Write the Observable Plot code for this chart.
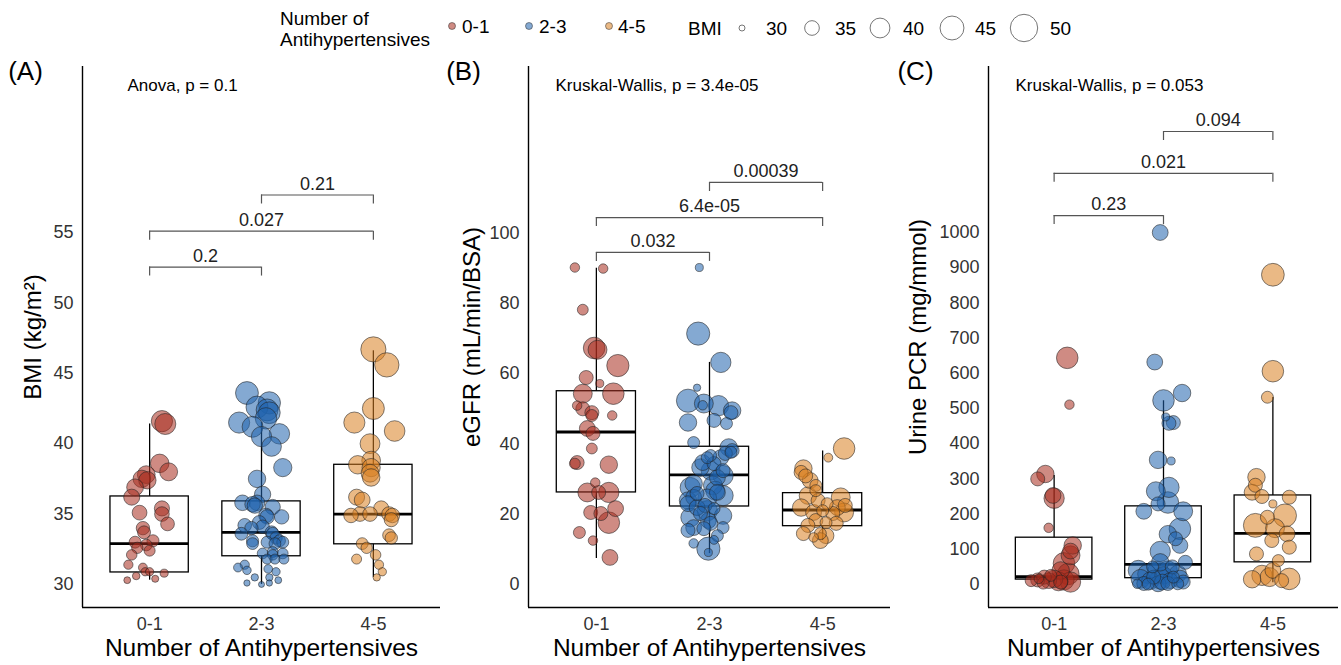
<!DOCTYPE html>
<html><head><meta charset="utf-8">
<script src="https://cdn.jsdelivr.net/npm/d3@7"></script>
<script src="https://cdn.jsdelivr.net/npm/@observablehq/plot@0.6"></script>
<style>
body{margin:0;background:#fff;}
#wrap{position:relative;width:1341px;height:665px;font-family:'Liberation Sans',Arial,sans-serif;background:#fff;overflow:hidden;}
.panel{position:absolute;top:55px;}
</style></head><body><div id="wrap"></div>
<script>
// ---------- categories & legend ----------
const groups = ["0-1", "2-3", "4-5"];
const groupColors = ["#A82C1E", "#1F63AD", "#D98021"];
const bmiLegendValues = [30, 35, 40, 45, 50];
const xTitle = "Number of Antihypertensives";

// ---------- Panel A: BMI  [BMI, jitter] ----------
const bmiA_g01 = [[41.6,0.11],[41.4,0.14],[38.6,0.09],[38.0,0.17],[37.8,-0.03],[37.5,-0.07],[37.4,-0.02],[36.9,-0.13],[36.2,-0.16],[35.1,-0.09],[35.4,0.11],[35.0,0.11],[34.3,0.16],[34.0,-0.06],[33.7,-0.05],[33.0,-0.13],[33.1,0.03],[32.8,-0.03],[32.6,-0.11],[32.4,0.0],[32.1,-0.16],[31.4,-0.19],[31.2,-0.06],[30.9,-0.04],[30.9,0.0],[30.8,0.13],[30.6,-0.12],[30.3,-0.2],[30.4,0.05]];
const bmiA_g23 = [[43.6,-0.13],[42.9,0.07],[42.6,-0.04],[42.4,0.05],[42.2,0.07],[41.8,0.04],[41.5,-0.2],[41.2,-0.08],[40.7,0.16],[40.5,0.0],[39.8,0.09],[38.3,0.19],[37.5,-0.04],[36.4,0.01],[35.8,-0.17],[35.7,-0.08],[35.6,-0.06],[35.8,-0.04],[35.5,0.10],[34.8,0.18],[34.8,0.05],[34.9,0.04],[34.4,-0.02],[34.2,-0.15],[34.0,-0.09],[34.1,0.01],[33.6,-0.18],[33.7,0.09],[33.6,0.10],[33.3,0.13],[33.1,0.16],[33.1,-0.08],[33.0,0.05],[33.0,0.19],[32.9,-0.08],[32.9,0.12],[32.3,0.10],[32.2,0.01],[32.1,0.10],[32.2,0.19],[31.8,0.05],[31.8,0.12],[31.8,0.2],[31.2,-0.21],[31.4,-0.15],[31.0,-0.13],[31.1,0.06],[30.9,0.13],[30.5,-0.06],[30.5,0.07],[30.1,-0.13],[30.1,0.07],[30.0,0.0],[30.3,0.15]];
const bmiA_g45 = [[46.7,0.0],[45.6,0.12],[42.5,0.0],[41.5,-0.17],[40.9,0.19],[40.0,-0.03],[38.8,-0.02],[38.5,-0.14],[38.3,-0.02],[37.9,-0.03],[37.6,-0.02],[36.2,-0.15],[36.0,-0.1],[34.9,-0.2],[35.0,-0.12],[35.0,-0.03],[35.4,0.07],[35.0,0.14],[34.6,0.16],[34.9,0.17],[33.5,0.14],[33.3,0.16],[32.9,-0.1],[32.6,-0.06],[32.1,0.02],[31.8,-0.15],[31.4,0.05],[30.9,0.08],[30.5,0.03]];
// box stats [lo, q1, median, q3, hi]
const boxA = [[30.3,30.85,32.9,36.25,41.4],[30.0,32.0,33.7,35.9,41.5],[30.5,32.85,35.0,38.5,46.6]];
const bracketsA = [["0-1","2-3",52.55,"0.2"],["0-1","4-5",55.1,"0.027"],["2-3","4-5",57.67,"0.21"]];
const yTicksA = [30,35,40,45,50,55];

// ---------- Panel B: eGFR  [eGFR, BMI, jitter] ----------
const egfrB_g01 = [[90.2,31.5,-0.19],[89.9,31.5,0.06],[78.2,32.3,-0.12],[67.3,42,-0.02],[66.8,39,0.01],[62.3,42.8,0.19],[58.9,34.5,-0.09],[57.2,30.8,0.03],[54.3,39,-0.12],[54.3,42,0.15],[50.9,31.5,-0.17],[50.0,34.5,-0.12],[48.9,34.5,-0.04],[48.1,33,-0.04],[48.1,31.5,0.14],[44.4,36,-0.08],[43.0,34.5,-0.03],[38.7,32.3,-0.04],[34.7,34.5,-0.17],[34.4,32.3,-0.19],[34.1,37.5,0.11],[29.0,31.5,-0.01],[26.2,39,-0.08],[26.2,34.5,0.02],[26.2,40.5,0.11],[21.6,36,0.17],[20.5,34.5,-0.05],[20.2,34.5,0.04],[17.6,42,0.11],[14.8,33,-0.15],[12.5,31.5,-0.03],[7.7,36,0.12]];
const egfrB_g23 = [[90.2,30.8,-0.09],[71.4,44,-0.10],[63.2,40.5,0.10],[56.0,30.5,-0.11],[52.3,44,-0.19],[51.5,39,-0.05],[51.0,31.5,-0.06],[50.9,40.5,0.08],[49.5,37.5,0.20],[48.9,34.5,0.19],[46.1,37.5,-0.19],[46.7,34.5,0.04],[45.8,33,0.15],[40.4,33,-0.14],[39.0,37.5,0.17],[38.1,34.5,0.20],[37.6,33,0.19],[37.3,34.5,0.14],[36.7,33,0.01],[36.1,36,0.10],[36.1,33,-0.02],[34.7,36,-0.06],[34.4,34.5,0.04],[33.3,37.5,-0.08],[32.4,34.5,0.12],[32.4,39,0.01],[31.0,40.5,0.12],[30.4,36,0.07],[28.7,37.5,-0.14],[28.2,39,0.03],[27.6,40.5,-0.17],[26.7,39,0.05],[26.2,36,0.07],[25.9,34.5,-0.11],[25.3,40.5,0.12],[24.8,36,-0.14],[24.5,39,-0.02],[23.9,37.5,-0.19],[23.0,36,-0.19],[22.5,34.5,-0.04],[21.9,36,-0.11],[21.6,33,0.04],[21.0,40.5,-0.02],[20.2,34.5,-0.08],[19.6,37.5,0.12],[19.1,39,-0.17],[18.2,36,-0.01],[17.4,34.5,0.01],[16.2,36,-0.14],[16.2,33,0.12],[15.9,34.5,-0.05],[15.4,34.5,-0.19],[13.9,33,0.07],[12.7,31.2,0.04],[11.7,31.5,-0.14],[10.2,44,-0.01],[9.1,30.8,-0.01]];
const egfrB_g45 = [[38.7,42,0.19],[36.1,31.2,0.05],[33.0,37.5,-0.17],[31.9,34.5,-0.19],[30.9,34.5,-0.15],[29.6,36,-0.11],[28.2,33,-0.06],[26.7,33,-0.06],[25.3,37.5,-0.13],[24.8,39,0.16],[23.9,34.5,-0.04],[23.0,33,0.04],[22.5,34.5,0.2],[21.9,36,0.13],[21.9,37.5,-0.19],[21.0,33,0.0],[20.5,36,-0.08],[20.2,34.5,0.09],[20.5,39,0.19],[18.2,34.5,-0.06],[17.6,33,0.03],[17.4,34.5,0.12],[16.8,34.5,-0.13],[14.5,34.5,-0.17],[14.5,33,-0.02],[13.9,36,0.03],[13.4,31.5,-0.08],[12.5,36,-0.02]];
const boxB = [[7.4,26.2,43.4,55.0,90.0],[8.8,22.2,31.2,39.2,63.2],[12.5,16.6,21.2,26.0,38.0]];
const bracketsB = [["0-1","2-3",94.5,"0.032"],["0-1","4-5",104.4,"6.4e-05"],["2-3","4-5",114.4,"0.00039"]];
const yTicksB = [0,20,40,60,80,100];

// ---------- Panel C: Urine PCR  [PCR, BMI, jitter] ----------
const pcrC_g01 = [[644,42,0.12],[511,31.5,0.14],[314,37.5,-0.08],[300,34.5,-0.15],[253,36,-0.01],[245,40.5,0.0],[161,31.5,-0.05],[111,37.5,0.17],[95,36,0.15],[83,39,0.15],[60,42,0.09],[40,37.5,0.06],[30,42,0.13],[21,34.5,-0.09],[16,37.5,0.0],[11,33,-0.21],[13,34.5,-0.15],[11,36,-0.05],[9,39,0.04],[13,40.5,0.09],[4,33,-0.1],[7,40.5,0.15],[26,33,-0.03],[7,34.5,0.06],[16,31.5,-0.14]];
const pcrC_g23 = [[1000,36,-0.03],[632,36,-0.08],[544,37.5,0.17],[523,42,0.0],[476,30.8,0.02],[460,34.5,0.09],[458,34.5,0.05],[354,37.5,-0.05],[351,30.8,0.07],[276,40.5,0.05],[265,39,-0.07],[233,42,0.04],[208,36,-0.18],[229,34.5,-0.05],[208,39,0.18],[158,42,0.15],[130,34.5,0.11],[143,37.5,0.04],[94,40.5,-0.03],[111,36,0.15],[63,34.5,0.2],[40,40.5,-0.23],[30,39,-0.15],[35,42,-0.05],[40,39,0.04],[30,37.5,0.13],[16,39,-0.21],[11,37.5,-0.12],[16,40.5,-0.03],[11,36,0.06],[16,37.5,0.15],[3,34.5,-0.18],[2,36,-0.05],[3,34.5,0.04],[2,33,0.13],[21,34.5,-0.09],[26,37.5,0.0],[21,33,0.09],[7,34.5,0.18],[2,31.5,-0.24],[1,33,-0.14],[7,36,-0.01],[50,34.5,0.08],[50,33,-0.1],[63,37.5,-0.03]];
const pcrC_g45 = [[880,43.5,0.0],[606,42,0.0],[532,33,-0.05],[305,37.5,-0.15],[282,34.5,-0.16],[262,36,-0.19],[250,34.5,-0.1],[248,34.5,0.15],[229,30.8,0.0],[196,44,0.11],[191,34.5,-0.05],[168,45,-0.16],[160,39,0.02],[144,36,0.13],[125,34.5,-0.01],[106,34.5,0.15],[87,34.5,-0.15],[68,33,0.05],[40,36,0.0],[26,40.5,-0.1],[21,39,-0.03],[16,42,0.15],[11,34.5,0.08],[15,37.5,-0.19]];
const boxC = [[2,14,22,133,310],[0,18,57,222,522],[5,63,145,253,531]];
const bracketsC = [["0-1","2-3",1048,"0.23"],["0-1","4-5",1168,"0.021"],["2-3","4-5",1287,"0.094"]];
const yTicksC = [0,100,200,300,400,500,600,700,800,900,1000];

// ---------- helpers ----------
const gi = g => groups.indexOf(g) + 1;
function rowsFrom(arrs, hasBmi) {
  return arrs.flatMap((arr, i) => arr.map(r => ({
    group: groups[i], g: i + 1,
    value: r[0], bmi: hasBmi ? r[1] : r[0], jitter: hasBmi ? r[2] : r[1]
  })));
}
const statsFrom = b => b.map((s, i) => ({group: groups[i], g: i + 1, lo: s[0], q1: s[1], med: s[2], q3: s[3], hi: s[4]}));
const bracketsFrom = b => b.map(d => ({from: gi(d[0]), to: gi(d[1]), y: d[2], label: d[3]}));

const fontFamily = "'Liberation Sans', Arial, Helvetica, sans-serif";

function drawPanel(o) {
  const {rows, stats, brackets, yDomain, yTicks} = o;
  const tick = (yDomain[1] - yDomain[0]) * 9 / 541;
  const bTicks = brackets.flatMap(b => [{x: b.from, y: b.y}, {x: b.to, y: b.y}]);
  const plot = Plot.plot({
    width: o.width, height: 610,
    marginTop: 11, marginBottom: 58, marginLeft: o.marginLeft, marginRight: o.marginRight,
    style: {fontFamily, background: "white", color: "black", overflow: "visible"},
    x: {type: "linear", domain: [0.4, 3.6], axis: null},
    y: {type: "linear", domain: yDomain, axis: null},
    r: {type: "linear", domain: [1, Math.sqrt(21)], range: [3, 13.7]},
    color: {domain: groups, range: groupColors},
    marks: [
      Plot.ruleX(stats, {x: "g", y1: "q3", y2: "hi", stroke: "black", strokeWidth: 1.3}),
      Plot.ruleX(stats, {x: "g", y1: "lo", y2: "q1", stroke: "black", strokeWidth: 1.3}),
      Plot.rect(stats, {x1: d => d.g - 0.35, x2: d => d.g + 0.35, y1: "q1", y2: "q3", fill: "none", stroke: "black", strokeWidth: 1.3}),
      Plot.ruleY(stats, {y: "med", x1: d => d.g - 0.35, x2: d => d.g + 0.35, stroke: "black", strokeWidth: 2.8}),
      Plot.dot(rows, {x: d => d.g + d.jitter, y: "value", r: d => Math.sqrt(d.bmi - 29), fill: "group",
        fillOpacity: 0.55, stroke: "#222", strokeOpacity: 0.7, strokeWidth: 0.8}),
      Plot.ruleY(brackets, {y: "y", x1: "from", x2: "to", stroke: "#555", strokeWidth: 1.2}),
      Plot.ruleX(bTicks, {x: "x", y1: "y", y2: d => d.y - tick, stroke: "#555", strokeWidth: 1.2}),
      Plot.text(brackets, {x: d => (d.from + d.to) / 2, y: "y", text: "label", dy: -11, fontSize: 18, fill: "#222"}),
      Plot.ruleX([0.4], {stroke: "black", strokeWidth: 1.4}),
      Plot.ruleY([yDomain[0]], {stroke: "black", strokeWidth: 1.4}),
      Plot.axisX([1, 2, 3], {tickFormat: i => groups[i - 1], tickSize: 0, tickPadding: 10, fontSize: 18, label: null, color: "#333"}),
      Plot.axisY(yTicks, {tickFormat: d => String(d), tickSize: 0, tickPadding: 9, fontSize: 18, label: null, color: "#333"}),
      Plot.text([xTitle], {text: d => d, frameAnchor: "bottom", lineAnchor: "middle", textAnchor: "middle", dy: 41, fontSize: 24.5}),
      Plot.text([o.yLabel], {text: d => d, frameAnchor: "left", lineAnchor: "middle", textAnchor: "middle", rotate: -90, dx: o.yLabelDx, fontSize: 24}),
      Plot.text([o.letter], {text: d => d, frameAnchor: "top-left", lineAnchor: "middle", textAnchor: "middle", dx: o.letterDx, dy: 5, fontSize: 26}),
      Plot.text([o.test], {text: d => d, frameAnchor: "top-left", lineAnchor: "middle", textAnchor: "start", dx: o.testDx, dy: 19, fontSize: 17})
    ]
  });
  plot.classList.add("panel");
  plot.style.left = o.left + "px";
  document.getElementById("wrap").appendChild(plot);
  return plot;
}

const plotA = drawPanel({
  rows: rowsFrom([bmiA_g01, bmiA_g23, bmiA_g45], false), stats: statsFrom(boxA), brackets: bracketsFrom(bracketsA),
  yDomain: [28.36, 66.8], yTicks: yTicksA, yLabel: "BMI (kg/m²)", letter: "(A)", test: "Anova, p = 0.1",
  width: 440, marginLeft: 82, marginRight: 0, left: 0, yLabelDx: -49, letterDx: -57, testDx: 45
});
drawPanel({
  rows: rowsFrom([egfrB_g01, egfrB_g23, egfrB_g45], true), stats: statsFrom(boxB), brackets: bracketsFrom(bracketsB),
  yDomain: [-6.54, 147.4], yTicks: yTicksB, yLabel: "eGFR (mL/min/BSA)", letter: "(B)", test: "Kruskal-Wallis, p = 3.4e-05",
  width: 450, marginLeft: 88, marginRight: 0, left: 440, yLabelDx: -56, letterDx: -65, testDx: 27
});
drawPanel({
  rows: rowsFrom([pcrC_g01, pcrC_g23, pcrC_g45], true), stats: statsFrom(boxC), brackets: bracketsFrom(bracketsC),
  yDomain: [-65.3, 1471.6], yTicks: yTicksC, yLabel: "Urine PCR (mg/mmol)", letter: "(C)", test: "Kruskal-Wallis, p = 0.053",
  width: 451, marginLeft: 98, marginRight: 3, left: 890, yLabelDx: -70, letterDx: -73, testDx: 27
});

// ---------- legend ----------
const rScale = plotA.scale("r");
const rOf = v => rScale && rScale.apply ? rScale.apply(Math.sqrt(v - 29)) : 3 + (Math.sqrt(v - 29) - 1) * 2.99;
const lg = d3.select("#wrap").append("svg")
  .attr("width", 1341).attr("height", 55)
  .style("position", "absolute").style("left", "0px").style("top", "0px")
  .style("font-family", fontFamily).style("font-size", "19px");
lg.append("text").attr("x", 280).attr("y", 18).attr("dominant-baseline", "central").text("Number of");
lg.append("text").attr("x", 280).attr("y", 39).attr("dominant-baseline", "central").text("Antihypertensives");
const dotX = [452, 529, 609], dotLabelX = [462, 539, 618];
groups.forEach((g, i) => {
  lg.append("circle").attr("cx", dotX[i]).attr("cy", 26).attr("r", 3.5)
    .attr("fill", groupColors[i]).attr("fill-opacity", 0.55).attr("stroke", "#222").attr("stroke-opacity", 0.6).attr("stroke-width", 0.8);
  lg.append("text").attr("x", dotLabelX[i]).attr("y", 26).attr("dominant-baseline", "central").text(g);
});
lg.append("text").attr("x", 688).attr("y", 28).attr("dominant-baseline", "central").text("BMI");
const cX = [742, 812, 880, 952, 1024], tX = [766, 835, 903, 975, 1050];
bmiLegendValues.forEach((v, i) => {
  lg.append("circle").attr("cx", cX[i]).attr("cy", 28).attr("r", rOf(v))
    .attr("fill", "none").attr("stroke", "#666").attr("stroke-width", 0.9);
  lg.append("text").attr("x", tX[i]).attr("y", 28).attr("dominant-baseline", "central").text(v);
});
</script>
</body></html>
